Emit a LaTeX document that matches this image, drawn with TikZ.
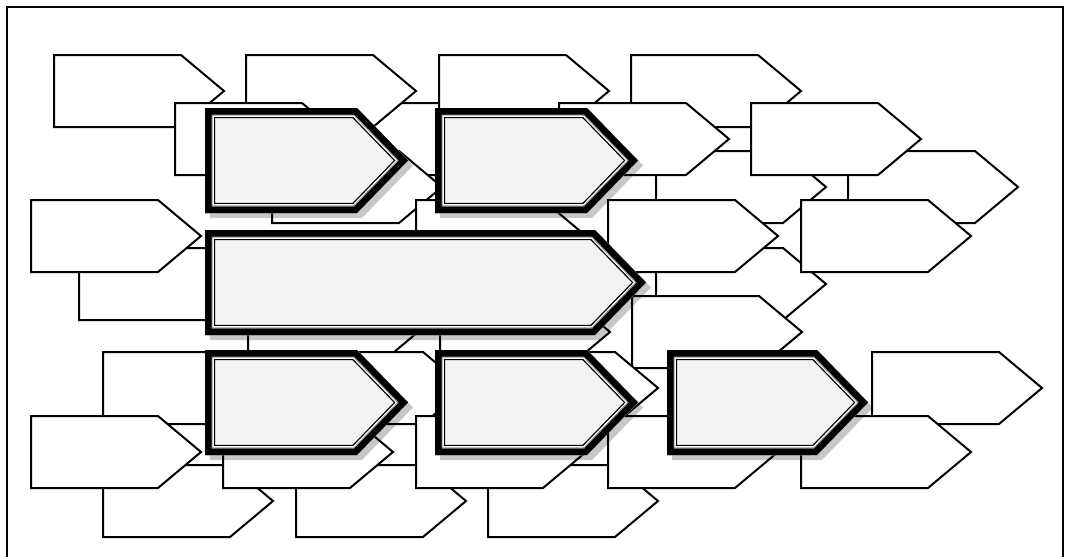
\documentclass[tikz,border=0pt]{standalone}
\tikzset{
  plaintag/.style={fill=white,draw=black,line width=2pt,line join=miter},
  tagshadow/.style={fill=black,opacity=0.22},
}
% white arrow box, #1/#2 = top left corner
\newcommand{\plaintag}[2]{%
  \filldraw[plaintag] (#1,#2) -- ++(127,0) -- ++(43,36) -- ++(-43,36) -- ++(-127,0) -- cycle;}
% highlighted arrow box, #3 = length of the straight part
\newcommand{\boldtag}[3]{%
  \fill[tagshadow] (#1+5,#2+5) -- ++(#3,0) -- ++(51,52.5) -- ++(-51,52.5) -- ++(-#3,0) -- cycle;
  \begin{scope}
    \clip (#1,#2) -- ++(#3,0) -- ++(51,52.5) -- ++(-51,52.5) -- ++(-#3,0) -- cycle;
    \filldraw[fill=black!5,draw=black,line width=20.4pt] (#1,#2) -- ++(#3,0) -- ++(51,52.5) -- ++(-51,52.5) -- ++(-#3,0) -- cycle;
    \draw[white,line width=17.8pt] (#1,#2) -- ++(#3,0) -- ++(51,52.5) -- ++(-51,52.5) -- ++(-#3,0) -- cycle;
    \draw[black!40,line width=15.4pt] (#1,#2) -- ++(#3,0) -- ++(51,52.5) -- ++(-51,52.5) -- ++(-#3,0) -- cycle;
    \draw[black,line width=13pt] (#1,#2) -- ++(#3,0) -- ++(51,52.5) -- ++(-51,52.5) -- ++(-#3,0) -- cycle;
  \end{scope}}
\begin{document}
\begin{tikzpicture}[x=1pt,y=-1pt]
  \clip (0,0) rectangle (1066,557);
  \fill[white] (0,0) rectangle (1066,557);
  \draw[line width=2pt] (7,7) rectangle (1063,600);

  % background boxes, back to front
  \foreach \x/\y in {367/103, 656/151, 848/151,
      54/55, 246/55, 439/55, 631/55,
      175/103, 559/103, 751/103, 272/151,
      79/248, 656/248,
      31/200, 416/200, 608/200, 801/200,
      248/296, 440/296, 632/296,
      103/352, 296/352, 488/352, 872/352,
      103/465, 296/465, 488/465,
      31/416, 223/416, 416/416, 608/416, 801/416}
    \plaintag{\x}{\y};

  % highlighted boxes
  \boldtag{205}{108}{152}
  \boldtag{435}{108}{152}
  \boldtag{205}{230}{390}
  \boldtag{205}{350}{152}
  \boldtag{435}{350}{152}
  \boldtag{667}{350}{150}
\end{tikzpicture}
\end{document}
